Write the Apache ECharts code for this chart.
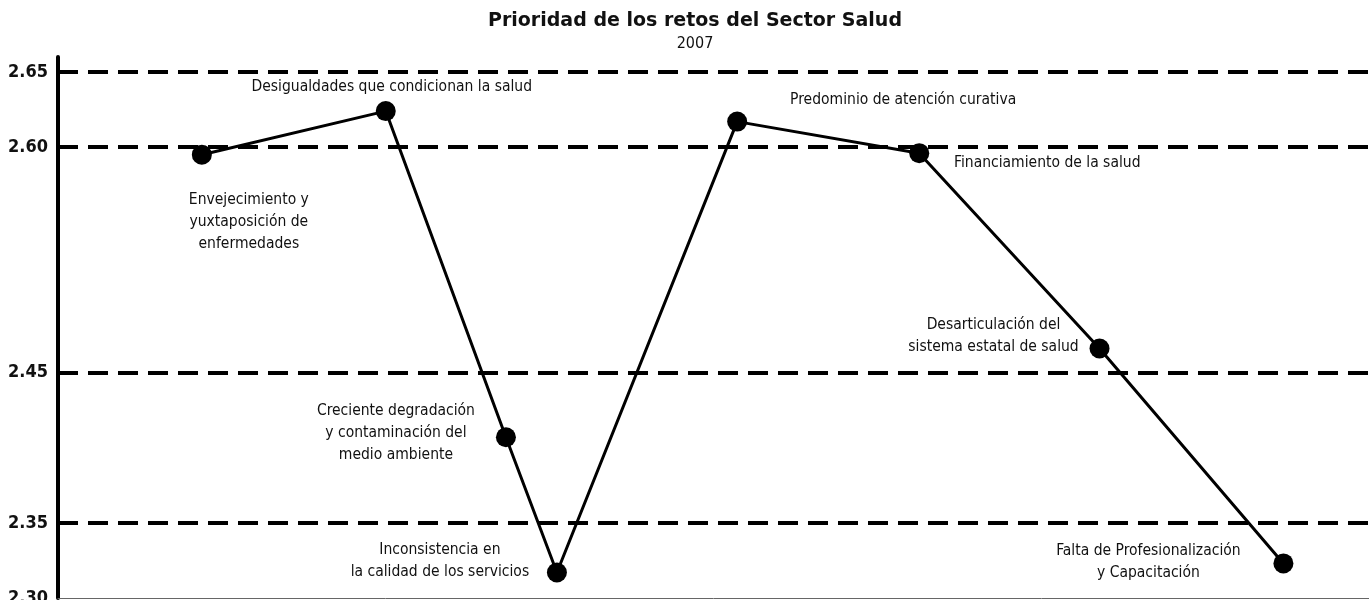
<!DOCTYPE html>
<html>
<head>
<meta charset="utf-8">
<script src="https://cdn.jsdelivr.net/npm/echarts@6/dist/echarts.min.js"></script>
<style>
  html, body { margin: 0; padding: 0; background: #fff; }
  #chart { width: 1369px; height: 600px; }
</style>
</head>
<body>
<div id="chart"></div>
<script>
// retos del sector salud, en el orden del gráfico
const categories = [
  "Envejecimiento y\nyuxtaposición de\nenfermedades",
  "Desigualdades que condicionan la salud",
  "Creciente degradación\ny contaminación del\nmedio ambiente",
  "Inconsistencia en\nla calidad de los servicios",
  "Predominio de atención curativa",
  "Financiamiento de la salud",
  "Desarticulación del\nsistema estatal de salud",
  "Falta de Profesionalización\ny Capacitación"
];
// posición horizontal de cada punto (no están equiespaciados)
const xPos = [0.79, 1.80, 2.46, 2.74, 3.73, 4.73, 5.72, 6.73];
const values = [2.595, 2.624, 2.407, 2.317, 2.617, 2.596, 2.466, 2.323];
const tickLabels = ["2.30", "2.35", "2.45", "2.60", "2.65"];
const gridValues = [2.35, 2.45, 2.60, 2.65];

// desplazamiento de cada etiqueta respecto a su punto
const labelOffsets = [
  [47, 67], [6, -24], [-110, -4], [-117, -11],
  [166, -22], [128, 10], [-106, -13], [-135, -1]
];

const narrow = "'Liberation Sans Narrow', 'Arial Narrow', 'DejaVu Sans Condensed', sans-serif";

const chart = echarts.init(document.getElementById("chart"));

const points = values.map((v, i) => ({
  value: [xPos[i], v],
  name: categories[i],
  label: { offset: labelOffsets[i] }
}));

chart.setOption({
  animation: false,
  title: {
    text: "Prioridad de los retos del Sector Salud",
    subtext: "2007",
    left: 690,
    textAlign: "center",
    top: 7,
    itemGap: 5,
    textStyle: {
      fontFamily: "'DejaVu Sans', sans-serif",
      fontWeight: "bold",
      fontSize: 19,
      color: "#111"
    },
    subtextStyle: {
      fontFamily: narrow,
      fontSize: 16,
      color: "#111"
    }
  },
  grid: { left: 58, right: 0, top: 57, bottom: 2, outerBoundsMode: "none" },
  xAxis: {
    type: "value",
    min: 0,
    max: 7.2,
    axisLine: { show: true, onZero: false, lineStyle: { color: "#666", width: 1 } },
    axisTick: { show: false },
    axisLabel: { show: false },
    splitLine: { show: false }
  },
  yAxis: {
    type: "value",
    min: 2.30,
    max: 2.66,
    interval: 0.01,
    axisLine: { show: true, lineStyle: { color: "#000", width: 4 } },
    axisTick: { show: false },
    splitLine: { show: false },
    axisLabel: {
      margin: 10,
      fontFamily: narrow,
      fontWeight: "bold",
      fontSize: 18,
      color: "#111",
      showMaxLabel: false,
      formatter: function (v) {
        const s = v.toFixed(2);
        return tickLabels.indexOf(s) >= 0 ? s : "";
      }
    }
  },
  series: [{
    type: "line",
    data: points,
    symbol: "circle",
    symbolSize: 20,
    itemStyle: { color: "#000" },
    lineStyle: { color: "#000", width: 3 },
    label: {
      show: true,
      position: "inside",
      formatter: "{b}",
      fontFamily: narrow,
      fontSize: 15.5,
      lineHeight: 22,
      color: "#111",
      align: "center",
      verticalAlign: "middle",
      textBorderWidth: 0
    },
    markLine: {
      silent: true,
      symbol: "none",
      label: { show: false },
      lineStyle: { color: "#000", width: 4, type: [20, 10] },
      data: gridValues.map(v => ({ yAxis: v }))
    }
  }]
});
</script>
</body>
</html>
